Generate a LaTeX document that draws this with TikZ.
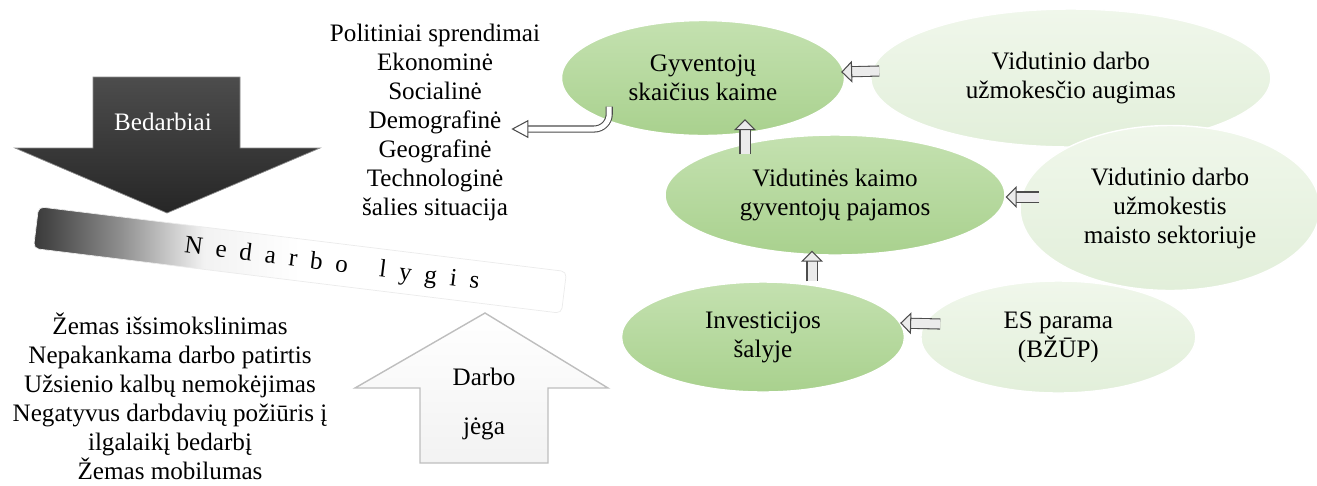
\documentclass[tikz,border=0pt]{standalone}
\usepackage{fontspec}
\setmainfont{Liberation Serif}
\usetikzlibrary{shapes.geometric, positioning, arrows.meta, calc}
\definecolor{leafdark}{RGB}{169,209,142}
\definecolor{leaftop}{RGB}{196,225,176}
\definecolor{leaflight}{RGB}{226,239,218}
\definecolor{leafpale}{RGB}{240,247,235}
\definecolor{coal}{RGB}{52,52,52}
\definecolor{ash}{RGB}{190,190,190}
\pgfdeclarehorizontalshading{barfade}{100bp}{color(0bp)=(black!78); color(25bp)=(black!78); color(33bp)=(black!45); color(41bp)=(black!5); color(50bp)=(white); color(100bp)=(white)}
\newcommand{\lsp}{\hspace{7.4pt}}

\begin{document}
\begin{tikzpicture}[x=0.02cm, y=-0.02cm,
      every node/.style={font=\fontsize{14.3}{16.5}\selectfont},
      core/.style={ellipse, inner sep=0pt, align=center, top color=leaftop, middle color=leafdark, bottom color=leafdark, draw=white, line width=0.8pt},
      cause/.style={ellipse, inner sep=0pt, align=center, top color=leafpale, middle color=leaflight, bottom color=leaflight, draw=white, line width=0.8pt},
      listing/.style={inner sep=0pt, align=center},
      blockarr/.style={draw=black!70, line width=0.6pt, double=black!8, double distance=0.18cm,
         -{Triangle[length=0.22cm, width=0.44cm, fill=black!8, line width=0.6pt]}}
   ]
      \useasboundingbox (0,0) rectangle (1317,485);

      % Left side: unemployment
      \shade[top color=black!70, bottom color=black!85, draw=black!45]
         (93,77) -- (240,77) -- (240,148) -- (320,148) -- (167,213) -- (15,148) -- (93,148) -- cycle;
      \node (bedarb) [text=white] at (163,122) {Bedarbiai};

      \node (bar) [rectangle, rotate=-7, minimum width=10.64cm, minimum height=0.84cm, rounded corners=3pt,
         shading=barfade, draw=black!8] at (300,260) {};
      \node (lygis) [rotate=-7] at (332,265) {N\lsp e\lsp d\lsp a\lsp r\lsp b\lsp o\hspace{18pt}l\lsp y\lsp g\lsp i\lsp s};

      \shade[top color=white, bottom color=black!5, draw=ash, line width=0.8pt]
         (485,313) -- (608,388) -- (548,388) -- (548,463) -- (420,463) -- (420,388) -- (355,388) -- cycle;
      \node (jega) [align=center] at (484,404) {Darbo\\[11pt]jėga};

      \node (factors) [listing] at (435,122)
         {Politiniai sprendimai\\Ekonominė\\Socialinė\\Demografinė\\Geografinė\\Technologinė\\šalies situacija};
      \node (barriers) [listing] at (170,396)
         {Žemas išsimokslinimas\\Nepakankama darbo patirtis\\Užsienio kalbų nemokėjimas\\Negatyvus darbdavių požiūris į\\ilgalaikį bedarbį\\Žemas mobilumas};

      % Right side: rural income chain
      \node (gyv)  [core, minimum width=5.66cm, minimum height=2.3cm] at (703,78) {Gyventojų\\skaičius kaime};
      \node (aug)  [cause, minimum width=8cm, minimum height=2.76cm, right=0.5cm of gyv] {Vidutinio darbo\\užmokesčio augimas};
      \node (vid)  [core, minimum width=6.8cm, minimum height=2.4cm] at (835,195) {Vidutinės kaimo\\gyventojų pajamos};
      \node (mais) [cause, minimum width=6cm, minimum height=3.3cm] at (1170,208) {Vidutinio darbo\\užmokestis\\maisto sektoriuje};
      \node (inv)  [core, minimum width=5.66cm, minimum height=2.2cm] at (763,337) {Investicijos\\šalyje};
      \node (es)   [cause, minimum width=5.5cm, minimum height=2.24cm, right=0.3cm of inv] {ES parama\\(BŽŪP)};

      % Block arrows
      \draw[blockarr] ($(aug.west)+(9,-7)$)   -- ($(gyv.east)+(-4,-6)$);
      \draw[blockarr] ($(mais.west)+(20,-11)$) -- ($(vid.east)+(0,2)$);
      \draw[blockarr] ($(es.west)+(20,-13)$)   -- ($(inv.east)+(-5,-14)$);
      \draw[blockarr] ($(vid.north)+(-90,20)$) -- ($(gyv.south)+(42,-17)$);
      \draw[blockarr] ($(inv.north)+(49,0)$)   -- ($(vid.south)+(-23,-5)$);

      % Population feeds back to the factors
      \draw[blockarr, double=white, double distance=0.1cm, rounded corners=0.3cm,
         -{Triangle[length=0.34cm, width=0.36cm, fill=white, line width=0.6pt]}]
         ($(gyv.205)+(0,-15)$) |- ($(factors.east)+(-29,7)$);
   \end{tikzpicture}
\end{document}
